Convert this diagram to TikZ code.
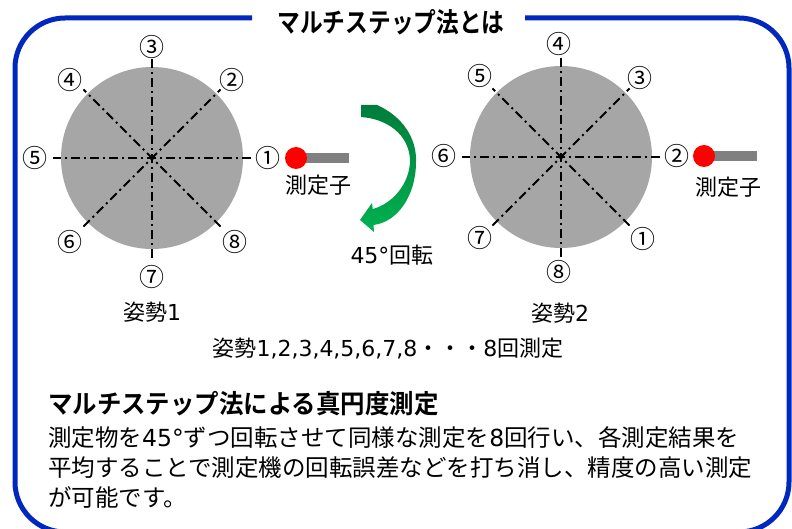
\documentclass[tikz,border=0pt]{standalone}
\usepackage{fontspec}
\setmainfont{DejaVu Sans}
\newfontfamily\jp{Noto Sans CJK JP}
\newfontfamily\jpt[FakeStretch=0.84]{Noto Sans CJK JP Bold}
\newfontfamily\jph[FakeStretch=0.94]{Noto Sans CJK JP Bold}
\usetikzlibrary{calc}
\definecolor{frameblue}{RGB}{0,40,190}
\definecolor{diskgray}{RGB}{166,166,166}
\definecolor{bargray}{RGB}{128,128,128}
\definecolor{arrtop}{RGB}{0,125,60}
\definecolor{arrbot}{RGB}{0,178,80}
\begin{document}
\begin{tikzpicture}[x=1pt,y=-1pt,
  disk/.style={circle,fill=diskgray,minimum size=182pt,inner sep=0},
  dd/.style={line width=1.8pt,dash pattern=on 9pt off 4pt on 2pt off 4pt},
  num/.style={font={\jp\fontsize{25}{25}\selectfont},inner sep=0},
  lab/.style={font={\fontsize{22}{22}\selectfont},inner sep=0},
  body/.style={font={\fontsize{23.5}{23.5}\selectfont},inner sep=0,anchor=west},
  tip/.style={circle,fill=red,minimum size=22pt,inner sep=0},
  bar/.style={rectangle,fill=bargray,minimum width=53pt,minimum height=10pt,inner sep=0,anchor=west}]
\useasboundingbox (0,0) rectangle (792,529);
\fill[white] (0,0) rectangle (792,529);
\clip (0,0) rectangle (792,529);
% frame
\draw[frameblue,line width=5pt,rounded corners=50pt] (252,18) -- (15,18) -- (15,532) -- (789,532) -- (789,18) -- (525,18);
\node[font={\jpt\fontsize{27}{27}\selectfont},inner sep=0] (title) at (391,22) {マルチステップ法とは};
% left disk
\node[disk] (c1) at (152,158) {};
\foreach \a/\r in {0/99,45/97,90/100,135/97}{
  \draw[dd] ($(c1.center)+(\a:\r)$) -- ($(c1.center)+(\a+180:\r)$);
}
\node[num] (l1) at (268,158) {①};
\node[num] (l2) at (232,80) {②};
\node[num] (l3) at (152,47) {③};
\node[num] (l4) at (70,80) {④};
\node[num] (l5) at (35,158) {⑤};
\node[num] (l6) at (70,242) {⑥};
\node[num] (l7) at (152,277) {⑦};
\node[num] (l8) at (235,242) {⑧};
\node[bar] (b1) at (296,158) {};
\node[tip] (t1) at (296,158) {};
\node[lab] (m1) at (318,185) {\jp 測定子};
\node[lab] (pose1) at (152,312) {{\jp 姿勢}1};
% right disk
\node[disk] (c2) at (561,157) {};
\foreach \a/\r in {0/99,45/97,90/100,135/97}{
  \draw[dd] ($(c2.center)+(\a:\r)$) -- ($(c2.center)+(\a+180:\r)$);
}
\node[num] (r1) at (643,239) {①};
\node[num] (r2) at (677,156) {②};
\node[num] (r3) at (640,78) {③};
\node[num] (r4) at (559,44) {④};
\node[num] (r5) at (480,76) {⑤};
\node[num] (r6) at (444,156) {⑥};
\node[num] (r7) at (480,238) {⑦};
\node[num] (r8) at (559,272) {⑧};
\node[bar] (b2) at (704,156) {};
\node[tip] (t2) at (704,156) {};
\node[lab] (m2) at (728,187) {\jp 測定子};
\node[lab] (pose2) at (560,313) {{\jp 姿勢}2};
% rotation arrow
\shade[top color=arrtop,bottom color=arrbot] (361,105) -- (377,105)
  .. controls (402,116) and (417,138) .. (416,162)
  .. controls (416,195) and (398,222) .. (373.5,225)
  -- (374,232) -- (360,220) -- (372,203) -- (372.7,209)
  .. controls (392,204) and (410,184) .. (410,160)
  .. controls (409,135) and (388,119) .. (361,117) -- cycle;
\node[lab] (rot) at (392,255) {45°{\jp 回転}};
\node[lab] (seq) at (388,349) {{\jp 姿勢}1,2,3,4,5,6,7,8{\jp ・・・}8{\jp 回測定}};
% description
\node[font={\jph\fontsize{26}{26}\selectfont},inner sep=0,anchor=west] (head) at (48,404) {マルチステップ法による真円度測定};
\node[body] (line1) at (48,438) {{\jp 測定物を}45°{\jp ずつ回転させて同様な測定を}8{\jp 回行い、各測定結果を}};
\node[body] (line2) at (48,468) {\jp 平均することで測定機の回転誤差などを打ち消し、精度の高い測定};
\node[body] (line3) at (48,497) {\jp が可能です。};
\end{tikzpicture}
\end{document}
